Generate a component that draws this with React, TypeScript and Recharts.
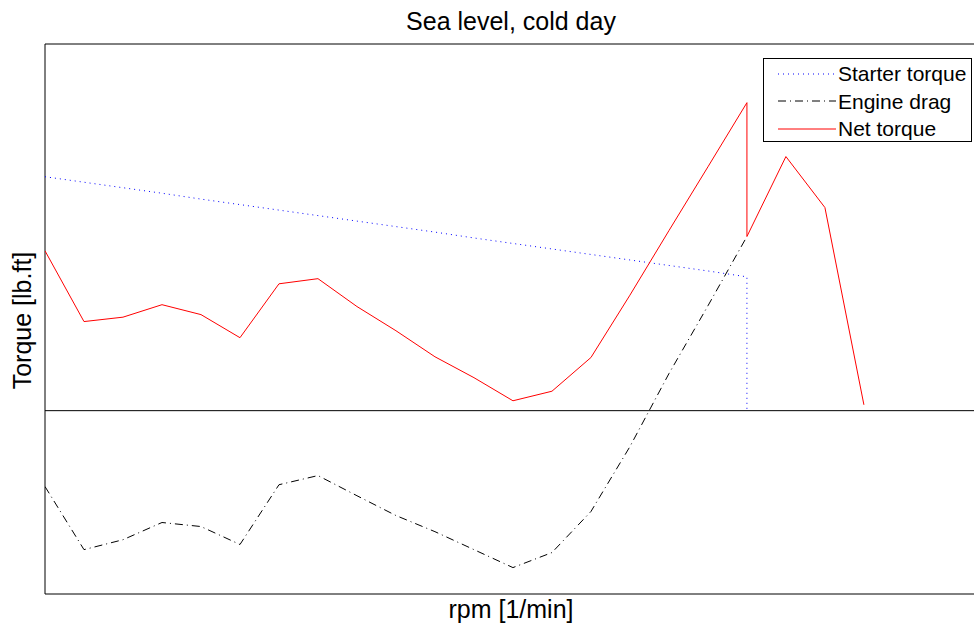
import React from 'react';
import {
  LineChart, Line, XAxis, YAxis, ReferenceLine,
} from 'recharts';

// rpm steps (no tick labels shown on the original)
const rpm = [0, 100, 200, 300, 400, 500, 600, 700, 800, 900, 1000, 1100, 1200, 1300, 1400, 1500, 1600, 1700, 1800];
const starterRpm = [0, 100, 200, 300, 400, 500, 600, 700, 800, 900, 1000, 1100, 1200, 1300, 1400, 1500, 1600, 1700, 1800, 1800];
const netRpm = [0, 100, 200, 300, 400, 500, 600, 700, 800, 900, 1000, 1100, 1200, 1300, 1400, 1500, 1600, 1700, 1800, 1800, 1900, 2000, 2100];

const starterTorque = [63.8, 62.3, 60.8, 59.3, 57.7, 56.2, 54.7, 53.2, 51.7, 50.2, 48.7, 47.1, 45.6, 44.1, 42.6, 41.1, 39.6, 38.1, 36.5, 0];
const engineDrag = [-20.7, -37.9, -35.2, -30.5, -31.6, -36.5, -20.2, -17.7, -23.2, -28.6, -33.0, -37.9, -42.8, -38.7, -27.5, -9.8, 10.1, 28.6, 47.5];
const netTorque = [43.6, 24.3, 25.5, 28.9, 26.2, 19.9, 34.6, 36.0, 28.4, 21.8, 14.7, 9.0, 2.7, 5.3, 14.5, 31.5, 49.1, 66.5, 84.0, 47.5, 69.3, 55.4, 1.6];

const FONT = "Arial, 'Liberation Sans', sans-serif";

const starterData = starterRpm.map((r, i) => ({ rpm: r, v: starterTorque[i] }));
const dragData = rpm.map((r, i) => ({ rpm: r, v: engineDrag[i] }));
const netData = netRpm.map((r, i) => ({ rpm: r, v: netTorque[i] }));

const legendItems = [
  { name: 'Starter torque', color: '#0000ff', dash: '1 4' },
  { name: 'Engine drag', color: '#000000', dash: '8 4 1 4' },
  { name: 'Net torque', color: '#ff0000', dash: undefined },
];

function LegendBox() {
  return (
    <div style={{
      position: 'absolute', left: 763, top: 58,
      border: '1px solid #000', background: '#fff', width: 209, height: 84,
      boxSizing: 'border-box', fontFamily: FONT, fontSize: 21, paddingTop: 1,
    }}>
      {legendItems.map(it => (
        <div key={it.name} style={{ display: 'flex', alignItems: 'center', height: 27.5 }}>
          <svg width={74} height={10} style={{ flex: 'none' }}>
            <line x1={14} x2={72} y1={5} y2={5} stroke={it.color} strokeDasharray={it.dash} strokeWidth={1} />
          </svg>
          <span style={{ color: '#000', lineHeight: '21px' }}>{it.name}</span>
        </div>
      ))}
    </div>
  );
}

export default function App() {
  return (
    <div style={{ position: 'absolute', left: 0, top: 0, width: 974, height: 634, overflow: 'hidden', background: '#fff' }}>
      <div style={{
        position: 'absolute', left: 311, width: 400, top: 9, textAlign: 'center',
        fontFamily: FONT, fontSize: 25, lineHeight: '25px', color: '#000',
      }}>Sea level, cold day</div>
      <div style={{
        position: 'absolute', left: 311, width: 400, top: 597, textAlign: 'center',
        fontFamily: FONT, fontSize: 25, lineHeight: '25px', color: '#000',
      }}>rpm [1/min]</div>
      <div style={{
        position: 'absolute', left: 21.7 - 100, top: 320 - 12.5, width: 200, height: 25, textAlign: 'center',
        fontFamily: FONT, fontSize: 25, lineHeight: '25px', color: '#000', transform: 'rotate(-90deg)',
      }}>Torque [lb.ft]</div>
      <LineChart width={990} height={634} margin={{ top: 44, left: 45, right: 13, bottom: 40 }}>
        <XAxis
          type="number" dataKey="rpm" domain={[0, 2390]} allowDataOverflow
          tick={false} tickLine={false} height={0} axisLine={false}
        />
        <YAxis
          type="number" domain={[-50, 100]} allowDataOverflow
          tick={false} tickLine={false} width={0} axisLine={false}
        />
        <ReferenceLine y={100} stroke="#000" />
        <ReferenceLine y={-50} stroke="#000" />
        <ReferenceLine x={0} stroke="#000" />
        <ReferenceLine x={2390} stroke="#000" />
        <ReferenceLine y={0} stroke="#000" />
        <Line data={starterData} dataKey="v" name="Starter torque" stroke="#0000ff" strokeDasharray="1 4"
          strokeWidth={1} dot={false} isAnimationActive={false} type="linear" />
        <Line data={dragData} dataKey="v" name="Engine drag" stroke="#000000" strokeDasharray="8 4 1 4"
          strokeWidth={1} dot={false} isAnimationActive={false} type="linear" />
        <Line data={netData} dataKey="v" name="Net torque" stroke="#ff0000"
          strokeWidth={1} dot={false} isAnimationActive={false} type="linear" />
      </LineChart>
      <LegendBox />
    </div>
  );
}
